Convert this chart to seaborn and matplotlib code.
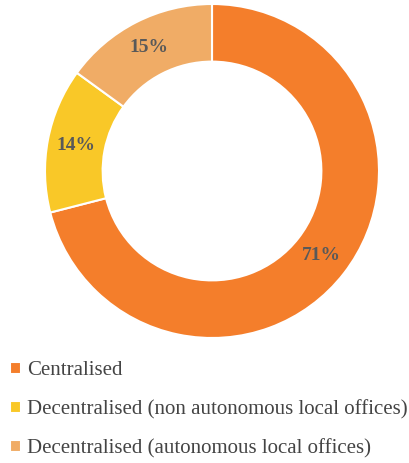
"""
Donut chart: share of organisations by management model
(centralised vs. decentralised offices).
"""

import matplotlib
matplotlib.use("Agg")
import matplotlib.pyplot as plt
import seaborn as sns

sns.set_theme(style="white")
plt.rcParams["font.family"] = ["Liberation Serif", "DejaVu Serif"]

CATEGORIES = [
    "Centralised",
    "Decentralised (non autonomous local offices)",
    "Decentralised (autonomous local offices)",
]
SHARES = [71, 14, 15]
COLORS = ["#F47E2B", "#F9C828", "#F0AC66"]
LABEL_COLOR = "#595959"
LEGEND_COLOR = "#444444"


def chart_donut() -> None:
    fig = plt.figure(figsize=(4.09, 4.63), dpi=100)
    # axes placed so the ring sits in the top part, legend below it
    ax = fig.add_axes([45 / 409, 125 / 463, 334 / 409, 334 / 463])
    wedges, _, autotexts = ax.pie(
        SHARES, colors=COLORS, startangle=90, counterclock=False,
        radius=1.0, autopct="%d%%", pctdistance=0.83,
        wedgeprops=dict(width=0.345, edgecolor="white", linewidth=1.5),
    )
    for t in autotexts:
        t.set_color(LABEL_COLOR)
        t.set_fontsize(14)
        t.set_fontweight("bold")
    ax.set_xlim(-1, 1)
    ax.set_ylim(-1, 1)
    ax.set_aspect("equal")

    fig.legend(
        wedges, CATEGORIES, loc="upper left", bbox_to_anchor=(0.005, 0.238),
        frameon=False, fontsize=15, labelcolor=LEGEND_COLOR,
        handlelength=0.5, handleheight=0.5, handletextpad=0.3,
        labelspacing=0.95, borderaxespad=0.0,
    )
    fig.savefig("out.png", dpi=100)
    plt.close(fig)


if __name__ == "__main__":
    chart_donut()
